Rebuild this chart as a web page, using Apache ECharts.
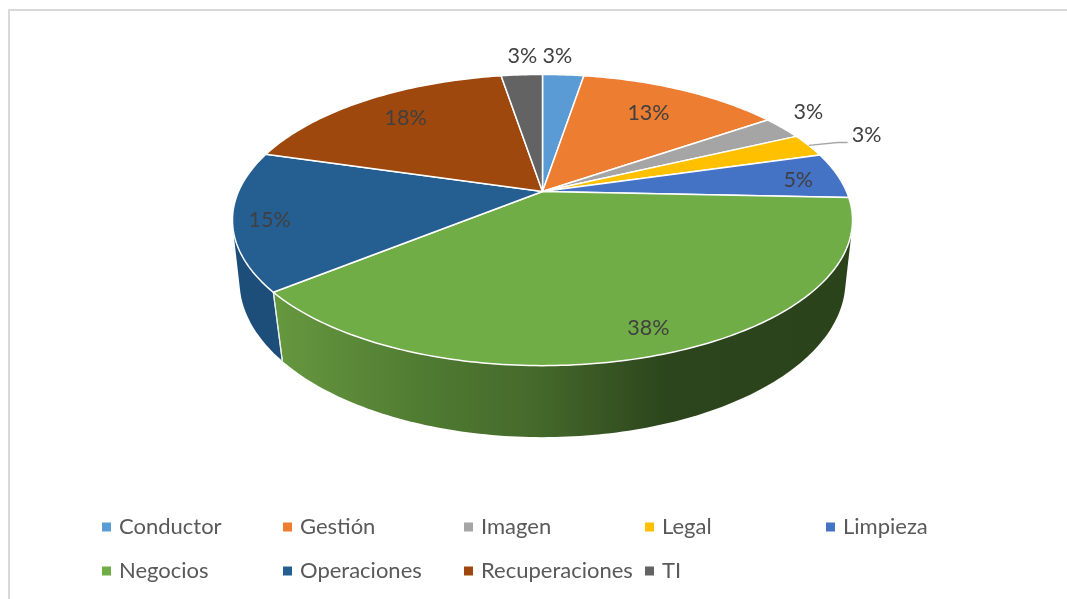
<!DOCTYPE html>
<html>
<head>
<meta charset="UTF-8">
<title></title>
<script src="https://cdn.jsdelivr.net/npm/echarts@6/dist/echarts.min.js"></script>
<style>
    html, body { margin: 0; padding: 0; background: #fff; }
    #chart1 { width: 1067px; height: 599px; }
</style>
</head>
<body>
<div id="chart1"></div>
<script type="text/javascript">
    var categories = ['Conductor', 'Gestión', 'Imagen', 'Legal', 'Limpieza', 'Negocios', 'Operaciones', 'Recuperaciones', 'TI'];
    var values = [2.6, 12.8, 2.6, 2.6, 5.1, 38.5, 15.4, 17.9, 2.6];
    var colors = ['#5B9BD5', '#ED7D31', '#A5A5A5', '#FFC000', '#4472C4', '#70AD47', '#255E91', '#9E480E', '#636363'];
    var wallColors = ['#4a7fae', '#c06528', '#868686', '#cf9c00', '#375d9f', '#70AD47', '#1d4e7a', '#803a0b', '#505050'];

    // label place on the pie plane: [radius, angle in degrees clockwise from the top]
    var labelPlaces = [[1.2, 2.9], [0.746, 31.7], [1.177, 56.8], [1.24, 69.1], [0.86, 84.2], [0.8675, 160.3], [0.885, 257.4], [0.775, 319.6], [1.203, 356.1]];
    var leaderSlice = 3;
    var frontSlice = 5;

    // perspective of the disc: top face and bottom face
    var topFace = { cx: 542.5, cy: 191.5, a: 304, b: 140, k: 0.196 };
    var bottomFace = { cx: 542.5, cy: 253.5, a: 298.3, b: 151.5, k: 0.175 };

    var total = 0;
    for (var i = 0; i < values.length; i++) {
        total += values[i];
    }

    function project(face, angle, radius) {
        var r = angle * Math.PI / 180;
        var u = radius * Math.sin(r);
        var v = -radius * Math.cos(r);
        var w = 1 - face.k * v;
        return [face.cx + face.a * u / w, face.cy + face.b * v / w];
    }

    function arc(face, from, to) {
        var pts = [];
        var n = Math.max(2, Math.ceil(to - from));
        for (var j = 0; j <= n; j++) {
            pts.push(project(face, from + (to - from) * j / n, 1));
        }
        return pts;
    }

    function cross(o, a, b) {
        return (a[0] - o[0]) * (b[1] - o[1]) - (a[1] - o[1]) * (b[0] - o[0]);
    }

    // convex hull of both arcs: gives the tangent silhouette between the two faces
    function hull(points) {
        var pts = points.slice().sort(function (a, b) { return a[0] - b[0] || a[1] - b[1]; });
        var low = [];
        var up = [];
        for (var j = 0; j < pts.length; j++) {
            while (low.length > 1 && cross(low[low.length - 2], low[low.length - 1], pts[j]) <= 0) {
                low.pop();
            }
            low.push(pts[j]);
        }
        for (var m = pts.length - 1; m >= 0; m--) {
            while (up.length > 1 && cross(up[up.length - 2], up[up.length - 1], pts[m]) <= 0) {
                up.pop();
            }
            up.push(pts[m]);
        }
        low.pop();
        up.pop();
        return low.concat(up);
    }

    function negociosWall() {
        return new echarts.graphic.LinearGradient(275, 0, 852, 0, [
            { offset: 0, color: '#66983f' },
            { offset: 0.25, color: '#507c32' },
            { offset: 0.45, color: '#45692b' },
            { offset: 0.68, color: '#2c451c' },
            { offset: 1, color: '#2b431b' }
        ], true);
    }

    function seam(angle) {
        var a = project(topFace, angle, 1);
        var b = project(bottomFace, angle, 1);
        return {
            type: 'line',
            z2: 3,
            shape: { x1: a[0], y1: a[1], x2: b[0], y2: b[1] },
            style: { stroke: '#e8eef0', lineWidth: 1.2 }
        };
    }

    function renderSlice(index) {
        return function (params, api) {
            var before = 0;
            for (var j = 0; j < index; j++) {
                before += values[j];
            }
            var from = before / total * 360;
            var to = (before + api.value(0)) / total * 360;
            var children = [];
            var upper = arc(topFace, from, to);
            var lower = arc(bottomFace, from, to);

            children.push({
                type: 'polygon',
                z2: index === frontSlice ? 2 : 1,
                shape: { points: hull(upper.concat(lower)) },
                style: { fill: index === frontSlice ? negociosWall() : wallColors[index], stroke: null }
            });

            // white seam where two slices meet on the front wall
            if (-Math.cos(from * Math.PI / 180) > topFace.k) {
                children.push(seam(from));
            }
            if (-Math.cos(to * Math.PI / 180) > topFace.k) {
                children.push(seam(to));
            }

            children.push({
                type: 'polygon',
                z2: 10,
                shape: { points: [[topFace.cx, topFace.cy]].concat(upper) },
                style: { fill: colors[index], stroke: '#fff', lineWidth: 1.5, lineJoin: 'round' }
            });

            var place = project(topFace, labelPlaces[index][1], labelPlaces[index][0]);
            if (index === leaderSlice) {
                var rim = project(topFace, (from + to) / 2, 1);
                children.push({
                    type: 'polyline',
                    z2: 11,
                    shape: { points: [rim, [place[0] - 29, place[1] + 8], [place[0] - 19, place[1] + 8]] },
                    style: { stroke: '#a6a6a6', lineWidth: 1.3, fill: null }
                });
            }
            children.push({
                type: 'text',
                z2: 12,
                style: {
                    text: Math.round(api.value(0) / total * 100) + '%',
                    x: place[0],
                    y: place[1] + 0.5,
                    fill: '#404040',
                    fontFamily: 'Lato',
                    fontSize: 21.5,
                    textAlign: 'center',
                    textVerticalAlign: 'middle'
                }
            });
            return { type: 'group', children: children };
        };
    }

    var series = [];
    var legends = [];
    for (var s = 0; s < categories.length; s++) {
        series.push({
            type: 'custom',
            name: categories[s],
            coordinateSystem: 'none',
            silent: true,
            animation: false,
            itemStyle: { color: colors[s] },
            renderItem: renderSlice(s),
            data: [[values[s]]]
        });
        // one legend per entry, the columns are evenly spaced whatever the text width
        legends.push({
            data: [categories[s]],
            left: 102 + (s % 5) * 181,
            top: s < 5 ? 516 : 560,
            padding: 0,
            icon: 'rect',
            itemWidth: 9,
            itemHeight: 9,
            selectedMode: false,
            formatter: '{a|{name}}',
            textStyle: {
                rich: {
                    a: { padding: [0, 0, 0, 3], fontFamily: 'Lato', fontSize: 22, color: '#595959' }
                }
            }
        });
    }

    var chart1 = echarts.init(document.getElementById('chart1'));
    chart1.setOption({
        backgroundColor: '#fff',
        animation: false,
        legend: legends,
        graphic: [{
            type: 'polyline',
            silent: true,
            shape: { points: [[9, 599], [9, 10], [1067, 10]] },
            style: { stroke: '#d9d9d9', lineWidth: 2, fill: null }
        }],
        series: series
    });
</script>
</body>
</html>
